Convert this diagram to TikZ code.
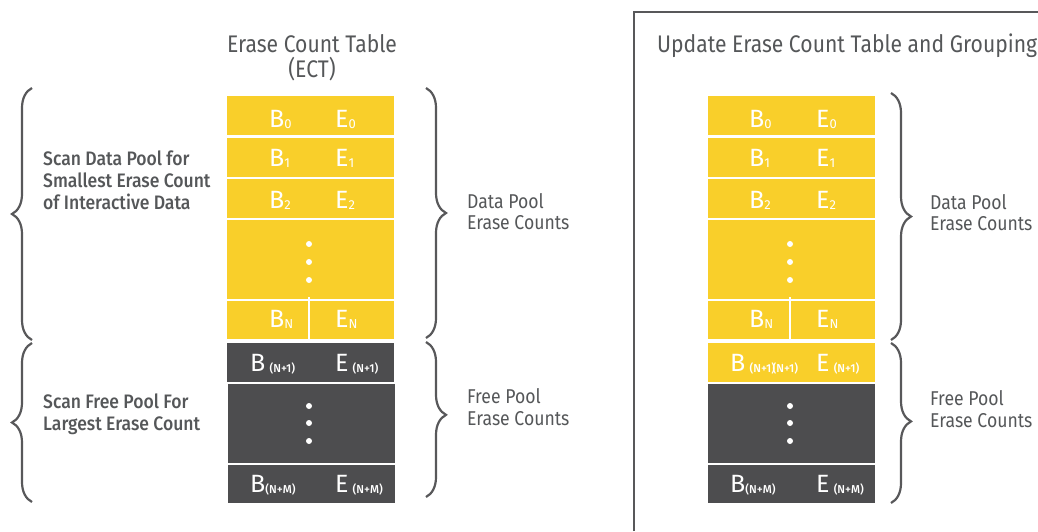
\documentclass[tikz,border=0pt]{standalone}
\usepackage{fontspec}
\setmainfont{Fira Sans}
\newfontfamily\cond{Fira Sans}[FakeStretch=0.88]
\newfontfamily\condmed{Fira Sans Medium}[FakeStretch=0.9]
\newfontfamily\semib{Fira Sans Medium}
\usetikzlibrary{decorations.pathreplacing}
\definecolor{ectyellow}{HTML}{F9CF2A}
\definecolor{ectdark}{HTML}{4D4D4F}
\definecolor{ink}{HTML}{555759}
\definecolor{rule}{HTML}{58585A}
% subscripts of the table entries
\newcommand\sbx[1]{\raisebox{-1pt}{\fontsize{13}{13}\selectfont #1}}
\newcommand\sbp[1]{\raisebox{-1pt}{\semib\fontsize{11.5}{11.5}\selectfont #1}}
\begin{document}
\begin{tikzpicture}[x=1pt,y=-1pt,
  cell/.style={draw=none, inner sep=0, minimum width=167pt, anchor=north west},
  yel/.style={cell, fill=ectyellow},
  drk/.style={cell, fill=ectdark},
  entry/.style={text=white, inner sep=0, anchor=base west, font=\fontsize{25}{25}\selectfont},
  lbl/.style={text=ink, inner sep=0, anchor=base west, font=\cond\fontsize{20}{22}\selectfont},
  slbl/.style={text=ink, inner sep=0, anchor=base west, font=\condmed\fontsize{19.5}{22}\selectfont},
  ttl/.style={text=ink, inner sep=0, font=\cond\fontsize{24}{26}\selectfont},
  dot/.style={circle, fill=white, inner sep=0, minimum size=6pt},
  brc/.style={draw=rule, line width=2.2pt, decorate,
    decoration={brace, amplitude=#1}},
  brc/.default=20pt,
  frame/.style={draw=rule, line width=2pt}]
\useasboundingbox (0,0) rectangle (1038,531);

% ---------------- left table: Erase Count Table ----------------
\node[ttl, anchor=base] (t1a) at (312,52) {Erase Count Table};
\node[ttl, anchor=base] (t1b) at (312,77) {(ECT)};

\node[yel, minimum height=39pt] (a0) at (227,96) {};
\node[yel, minimum height=39pt] (a1) at (227,138) {};
\node[yel, minimum height=39pt] (a2) at (227,179) {};
\node[yel, minimum height=79pt] (ad) at (227,220) {};
\node[yel, minimum height=38pt] (aN) at (227,301) {};
\node[drk, minimum height=39pt] (aN1) at (227,343) {};
\node[drk, minimum height=79pt] (add) at (228,384) {};
\node[drk, minimum height=38pt] (aNM) at (228,465) {};
\draw[white, line width=2.5pt] (309,297) -- (aN.south -| 309,0);

\node[entry] (ab0) at (269,127) {B\sbx{0}};
\node[entry] (ae0) at (335,127) {E\sbx{0}};
\node[entry] (ab1) at (269,166) {B\sbx{1}};
\node[entry] (ae1) at (335,166) {E\sbx{1}};
\node[entry] (ab2) at (269,208) {B\sbx{2}};
\node[entry] (ae2) at (335,208) {E\sbx{2}};
\node[dot] (ad1) at (309,244) {};
\node[dot] (ad2) at (309,262) {};
\node[dot] (ad3) at (309,280) {};
\node[entry] (abN) at (269,327) {B\sbx{N}};
\node[entry] (aeN) at (335,327) {E\sbx{N}};
\node[entry] (abN1) at (250,371) {B\,\sbp{(N+1)}};
\node[entry] (aeN1) at (335,371) {E\,\sbp{(N+1)}};
\node[dot] (add1) at (309,406) {};
\node[dot] (add2) at (309,423) {};
\node[dot] (add3) at (309,441) {};
\node[entry] (abNM) at (250,492) {B\sbp{(N+M)}};
\node[entry] (aeNM) at (335,492) {E\,\sbp{(N+M)}};

% braces round the left table
\coordinate (lb1t) at (32,88);
\coordinate (lb1b) at (32,340);
\coordinate (lb2t) at (32,343);
\coordinate (lb2b) at (32,502);
\draw[brc] (lb1b) -- (lb1t);
\draw[brc] (lb2b) -- (lb2t);
\coordinate (rb1t) at (426,88);
\coordinate (rb1b) at (426,338);
\coordinate (rb2t) at (426,342);
\coordinate (rb2b) at (426,497);
\draw[brc] (rb1t) -- (rb1b);
\draw[brc, decoration={aspect=0.47}] (rb2t) -- (rb2b);

\node[slbl] (s1) at (43,165) {Scan Data Pool for};
\node[slbl] (s2) at (43,187) {Smallest Erase Count};
\node[slbl] (s3) at (43,209) {of Interactive Data};
\node[slbl] (s4) at (43,408) {Scan Free Pool For};
\node[slbl] (s5) at (43,430) {Largest Erase Count};

\node[lbl] (d1) at (467,208) {Data Pool};
\node[lbl] (d2) at (467,229) {Erase Counts};
\node[lbl] (f1) at (467,403) {Free Pool};
\node[lbl] (f2) at (467,425) {Erase Counts};

% ---------------- right panel: updated table ----------------
\coordinate (fb) at (634,531);
\coordinate (fc) at (634,12);
\coordinate (fr) at (1038,12);
\draw[frame] (fb) -- (fc) -- (fr);
\node[ttl, anchor=base west] (t2) at (657,52) {Update Erase Count Table and Grouping};

\node[yel, minimum height=39pt] (b0) at (708,96) {};
\node[yel, minimum height=39pt] (b1) at (708,138) {};
\node[yel, minimum height=39pt] (b2) at (708,179) {};
\node[yel, minimum height=79pt] (bd) at (708,220) {};
\node[yel, minimum height=38pt] (bN) at (708,301) {};
\node[yel, minimum height=39pt] (bN1) at (708,343) {};
\node[drk, minimum height=79pt] (bdd) at (708,384) {};
\node[drk, minimum height=38pt] (bNM) at (708,465) {};
\draw[white, line width=2.5pt] (790,297) -- (bN.south -| 790,0);

\node[entry] (bb0) at (749,127) {B\sbx{0}};
\node[entry] (be0) at (816,127) {E\sbx{0}};
\node[entry] (bb1) at (749,166) {B\sbx{1}};
\node[entry] (be1) at (816,166) {E\sbx{1}};
\node[entry] (bb2) at (749,208) {B\sbx{2}};
\node[entry] (be2) at (816,208) {E\sbx{2}};
\node[dot] (bd1) at (790,244) {};
\node[dot] (bd2) at (790,262) {};
\node[dot] (bd3) at (790,280) {};
\node[entry] (bbN) at (749,327) {B\sbx{N}};
\node[entry] (beN) at (816,327) {E\sbx{N}};
\node[entry] (bbN1) at (730,371) {B\,\sbp{(N+1)\kern-2.5pt(N+1)}};
\node[entry] (beN1) at (816,371) {E\,\sbp{(N+1)}};
\node[dot] (bdd1) at (790,406) {};
\node[dot] (bdd2) at (790,423) {};
\node[dot] (bdd3) at (790,441) {};
\node[entry] (bbNM) at (730,492) {B\sbp{(N+M)}};
\node[entry] (beNM) at (816,492) {E\,\sbp{(N+M)}};

\coordinate (qb1t) at (891,93);
\coordinate (qb1b) at (891,340);
\coordinate (qb2t) at (891,343);
\coordinate (qb2b) at (891,503);
\draw[brc] (qb1t) -- (qb1b);
\draw[brc, decoration={aspect=0.49}] (qb2t) -- (qb2b);

\node[lbl] (e1) at (930,209) {Data Pool};
\node[lbl] (e2) at (930,230) {Erase Counts};
\node[lbl] (g1) at (930,405) {Free Pool};
\node[lbl] (g2) at (930,427) {Erase Counts};
\end{tikzpicture}
\end{document}
